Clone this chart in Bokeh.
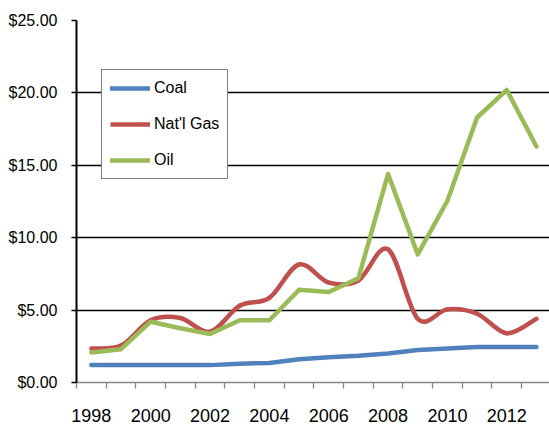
import numpy as np
from bokeh.plotting import figure
from bokeh.models import FixedTicker, PrintfTickFormatter, Legend, LegendItem
from bokeh.embed import file_html
from bokeh.resources import INLINE

years = [1998, 1999, 2000, 2001, 2002, 2003, 2004, 2005, 2006, 2007, 2008, 2009, 2010, 2011, 2012, 2013]
coal = [1.2, 1.2, 1.2, 1.2, 1.2, 1.3, 1.35, 1.6, 1.75, 1.85, 2.0, 2.25, 2.35, 2.45, 2.45, 2.45]
natgas = [2.35, 2.55, 4.3, 4.45, 3.5, 5.3, 5.85, 8.15, 6.9, 7.05, 9.2, 4.4, 5.05, 4.75, 3.4, 4.4]
oil = [2.07, 2.3, 4.2, 3.75, 3.35, 4.3, 4.3, 6.4, 6.25, 7.2, 14.4, 8.85, 12.55, 18.3, 20.2, 16.3]
x_labels = ["1998", "2000", "2002", "2004", "2006", "2008", "2010", "2012"]
y_ticks = [0, 5, 10, 15, 20, 25]

BLUE = "#4F81BD"
RED = "#C0504D"
GREEN = "#9BBB59"
FONT = "Liberation Sans"

p = figure(width=549, height=425, output_backend="svg", toolbar_location=None,
           x_range=(1997.5, 2013.44), y_range=(0, 25),
           min_border_left=76, min_border_right=0, min_border_top=20, min_border_bottom=43)
p.outline_line_color = None
p.xgrid.grid_line_color = None
p.ygrid.ticker = FixedTicker(ticks=y_ticks[1:])
p.ygrid.grid_line_color = "black"
p.ygrid.grid_line_width = 1.4

# x axis
xt = [int(s) for s in x_labels]
p.xaxis.ticker = FixedTicker(ticks=xt, minor_ticks=[y - 0.5 for y in years] + [years[-1] + 0.5])
p.xaxis.major_label_overrides = {t: s for t, s in zip(xt, x_labels)}
p.xaxis.axis_line_color = "#868686"
p.xaxis.axis_line_width = 1.5
p.xaxis.major_tick_line_color = None
p.xaxis.major_tick_out = 0
p.xaxis.major_tick_in = 0
p.xaxis.minor_tick_line_color = "#868686"
p.xaxis.minor_tick_line_width = 1.3
p.xaxis.minor_tick_out = 6
p.xaxis.minor_tick_in = 0
p.xaxis.major_label_standoff = 20
p.xaxis.major_label_text_font = FONT
p.xaxis.major_label_text_font_size = "18px"
p.xaxis.major_label_text_color = "black"

# y axis
p.yaxis.ticker = FixedTicker(ticks=y_ticks)
p.yaxis.formatter = PrintfTickFormatter(format="$%.2f")
p.yaxis.axis_line_color = "black"
p.yaxis.axis_line_width = 2
p.yaxis.major_tick_line_color = "black"
p.yaxis.major_tick_line_width = 1.5
p.yaxis.major_tick_out = 5
p.yaxis.major_tick_in = 0
p.yaxis.minor_tick_line_color = None
p.yaxis.major_label_standoff = 14
p.yaxis.major_label_text_font = FONT
p.yaxis.major_label_text_font_size = "16px"
p.yaxis.major_label_text_color = "black"

LW = 4.5
r_coal = p.line(years, coal, line_color=BLUE, line_width=LW, line_cap="round", line_join="round")

# smoothed natural gas curve (Excel-style smoothing: cubic Bezier through the data points)
xs = np.array(years, dtype=float)
ys = np.array(natgas, dtype=float)
xp = np.concatenate([[xs[0]], xs, [xs[-1]]])
yp = np.concatenate([[ys[0]], ys, [ys[-1]]])
cx0 = xp[1:-2] + (xp[2:-1] - xp[:-3]) / 6.0
cy0 = yp[1:-2] + (yp[2:-1] - yp[:-3]) / 6.0
cx1 = xp[2:-1] - (xp[3:] - xp[1:-2]) / 6.0
cy1 = yp[2:-1] - (yp[3:] - yp[1:-2]) / 6.0
p.bezier(x0=xs[:-1], y0=ys[:-1], x1=xs[1:], y1=ys[1:], cx0=cx0, cy0=cy0, cx1=cx1, cy1=cy1,
         line_color=RED, line_width=LW, line_cap="round")
# legend proxy (a single point draws no visible line)
r_gas = p.line(x=years[:1], y=natgas[:1], line_color=RED, line_width=LW)

r_oil = p.line(years, oil, line_color=GREEN, line_width=LW, line_cap="round", line_join="round")

legend = Legend(items=[LegendItem(label="Coal", renderers=[r_coal]),
                       LegendItem(label="Nat'l Gas", renderers=[r_gas]),
                       LegendItem(label="Oil", renderers=[r_oil])],
                location=(25, 203))
legend.border_line_color = "black"
legend.border_line_width = 1.2
legend.background_fill_color = "white"
legend.background_fill_alpha = 1
legend.label_text_font = FONT
legend.label_text_font_size = "16px"
legend.label_text_color = "black"
legend.glyph_width = 40
legend.glyph_height = 20
legend.label_height = 20
legend.label_standoff = 4
legend.spacing = 16
legend.padding = 8
legend.margin = 0
p.add_layout(legend, "center")

open("out.html", "w").write(file_html(p, INLINE))
